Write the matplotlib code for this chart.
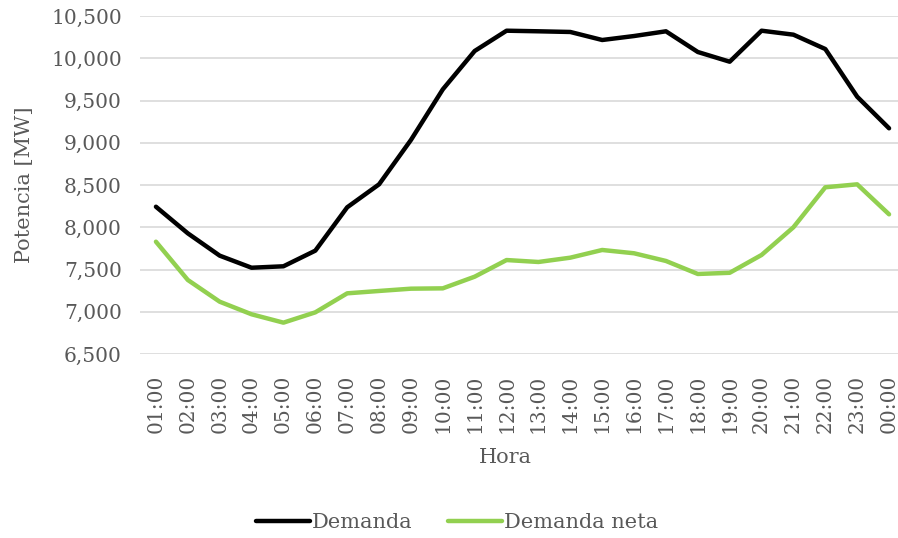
import numpy as np
import matplotlib.pyplot as plt
from matplotlib.ticker import FuncFormatter

# hourly values
horas = ["01:00", "02:00", "03:00", "04:00", "05:00", "06:00", "07:00", "08:00",
         "09:00", "10:00", "11:00", "12:00", "13:00", "14:00", "15:00", "16:00",
         "17:00", "18:00", "19:00", "20:00", "21:00", "22:00", "23:00", "00:00"]
demanda = [8243, 7928, 7664, 7521, 7538, 7723, 8236, 8508, 9033, 9632, 10086, 10326,
           10319, 10311, 10216, 10263, 10319, 10074, 9959, 10326, 10279, 10109, 9545, 9171]
demanda_neta = [7829, 7376, 7119, 6970, 6871, 6993, 7218, 7246, 7273, 7277, 7415, 7612,
                7589, 7640, 7731, 7692, 7601, 7447, 7461, 7672, 8000, 8473, 8508, 8153]

plt.rcParams['font.family'] = ['DejaVu Serif']
gris = '#595959'

fig = plt.figure(figsize=(8.98, 5.38), dpi=100)
ax = fig.add_axes([140/898, 1-354/538, 765/898, (354-16)/538])

x = np.arange(len(horas))
ax.plot(x, demanda, color='black', lw=3.2, label='Demanda', solid_capstyle='round')
ax.plot(x, demanda_neta, color='#92D050', lw=3.2, label='Demanda neta', solid_capstyle='round')

ax.set_xlim(-0.5, len(horas) - 0.5)
ax.set_ylim(6500, 10500)
ax.set_yticks(np.arange(6500, 10501, 500))
ax.yaxis.set_major_formatter(FuncFormatter(lambda v, p: f"{int(v):,}"))
ax.set_xticks(x)
ax.set_xticklabels(horas, rotation=90)
ax.grid(axis='y', color='#D9D9D9', lw=1.2)
ax.set_axisbelow(True)
for s in ax.spines.values():
    s.set_visible(False)
ax.tick_params(length=0, colors=gris, labelsize=14.5)
ax.tick_params(axis='y', pad=13)
ax.tick_params(axis='x', pad=15)

ax.set_ylabel("Potencia [MW]", color=gris, fontsize=15)
ax.yaxis.set_label_coords((34-140)/765, 0.5)
ax.set_xlabel("Hora", color=gris, fontsize=15)
ax.xaxis.set_label_coords(0.5 - 17/765, -(448-354)/338)

leg = fig.legend(loc='center', bbox_to_anchor=(0.5 + 8/898, 1-523/538), ncol=2, frameon=False,
                 fontsize=15, handlelength=2.6, columnspacing=1.7, handletextpad=0.1)
for t in leg.get_texts():
    t.set_color(gris)

plt.savefig("out.png", dpi=100)
